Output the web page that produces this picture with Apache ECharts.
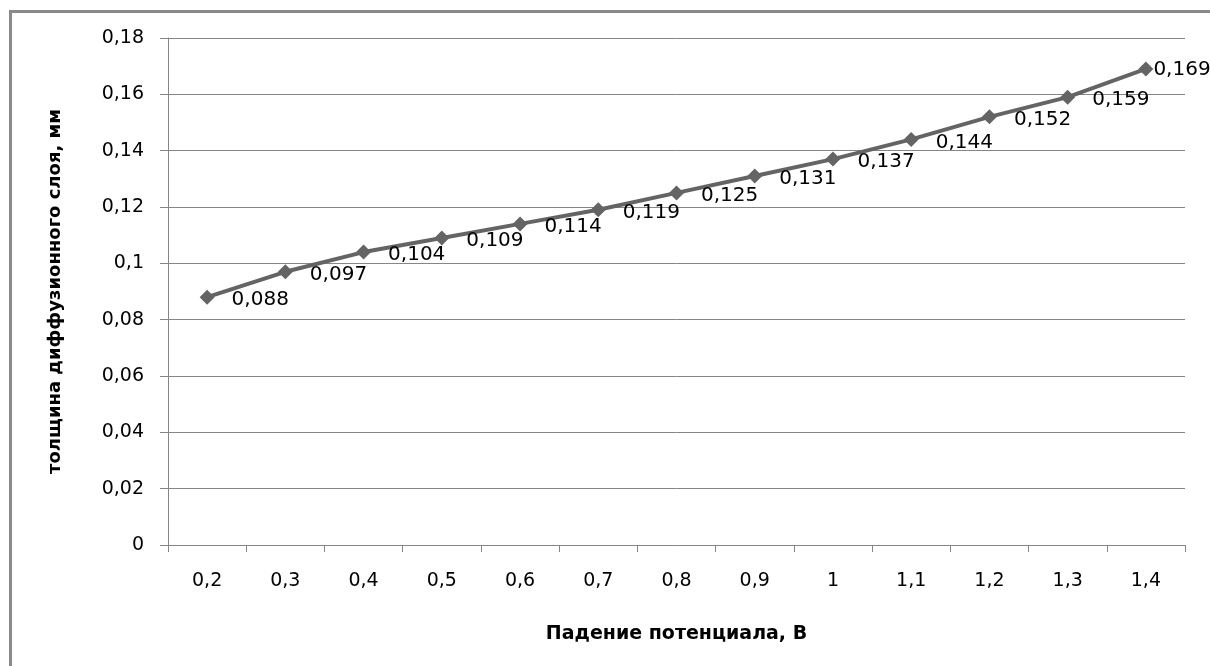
<!DOCTYPE html>
<html>
<head>
<meta charset="utf-8">
<script src="https://cdn.jsdelivr.net/npm/echarts@6/dist/echarts.min.js"></script>
<style>
  html, body { margin:0; padding:0; background:#fff; }
  #frame { position:absolute; left:9px; top:10px; width:1201px; height:656px;
           border-left:3px solid #8a8a8a; border-top:3px solid #8a8a8a; box-sizing:border-box; }
  #chart { position:absolute; left:0; top:0; width:1210px; height:666px; }
</style>
</head>
<body>
<div id="frame"></div>
<div id="chart"></div>
<script>
// категории (падение потенциала, В)
const categories = ['0,2','0,3','0,4','0,5','0,6','0,7','0,8','0,9','1','1,1','1,2','1,3','1,4']
// толщина диффузионного слоя, мм
const thickness = [0.088, 0.097, 0.104, 0.109, 0.114, 0.119, 0.125, 0.131, 0.137, 0.144, 0.152, 0.159, 0.169]

const fmt = v => String(+v.toFixed(3)).replace('.', ',')
const font = 'DejaVu Sans'

// последняя подпись прижата к точке, как в исходнике
const seriesData = thickness.map((v, i) =>
  i === thickness.length - 1 ? { value: v, label: { distance: 0, offset: [0, 1] } } : v)

const chart = echarts.init(document.getElementById('chart'))
chart.setOption({
  animation: false,
  grid: { left: 168, right: 25, top: 38, bottom: 121 },
  xAxis: {
    type: 'category',
    data: categories,
    boundaryGap: true,
    name: 'Падение потенциала, В',
    nameLocation: 'middle',
    nameGap: 80,
    nameTextStyle: { fontFamily: font, fontSize: 19, fontWeight: 'bold', color: '#000' },
    axisLine: { lineStyle: { color: '#868686', width: 1 } },
    axisTick: { show: true, length: 7, alignWithLabel: false, lineStyle: { color: '#868686' } },
    axisLabel: { fontFamily: font, fontSize: 19, color: '#000', margin: 27 }
  },
  yAxis: {
    type: 'value',
    min: 0, max: 0.18, interval: 0.02,
    name: 'толщина диффузионного слоя, мм',
    nameLocation: 'middle',
    nameGap: 104,
    nameTextStyle: { fontFamily: font, fontSize: 18, fontWeight: 'bold', color: '#000' },
    axisLine: { show: true, lineStyle: { color: '#868686', width: 1 } },
    axisTick: { show: true, length: 8, lineStyle: { color: '#868686' } },
    splitLine: { lineStyle: { color: '#868686', width: 1 } },
    axisLabel: { fontFamily: font, fontSize: 19, color: '#000', margin: 24, formatter: fmt }
  },
  series: [{
    type: 'line',
    data: seriesData,
    symbol: 'diamond',
    symbolSize: 15,
    lineStyle: { color: '#646464', width: 4 },
    itemStyle: { color: '#646464' },
    label: {
      show: true, position: 'right', distance: 17, offset: [0, 3],
      fontFamily: font, fontSize: 20, color: '#000',
      formatter: p => fmt(p.value)
    }
  }]
})
</script>
</body>
</html>
